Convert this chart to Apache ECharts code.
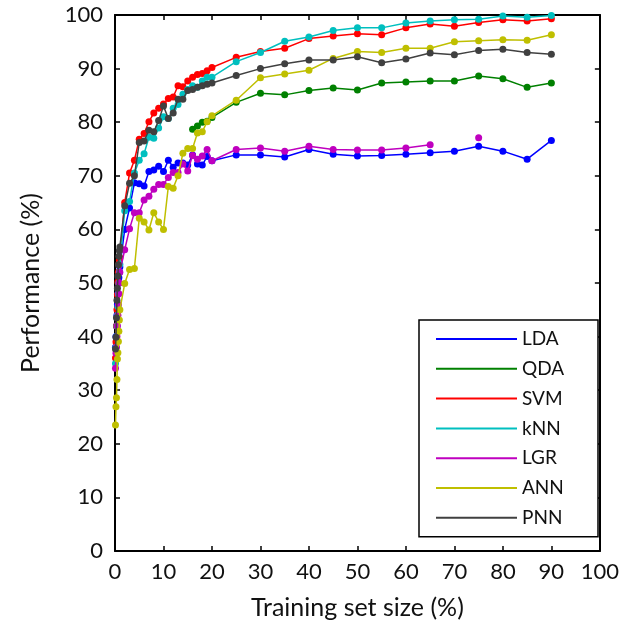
<!DOCTYPE html>
<html>
<head>
<meta charset="utf-8">
<script src="https://cdn.jsdelivr.net/npm/echarts@6/dist/echarts.min.js"></script>
<style>html,body{margin:0;padding:0;background:#fff}#c{width:622px;height:633px}</style>
</head>
<body>
<div id="c"></div>
<script>
// Training set sizes (%)
var xValues = [0.1,0.2,0.3,0.4,0.5,0.6,0.7,0.8,0.9,1,
  2,3,4,5,6,7,8,9,10,11,12,13,14,15,16,17,18,19,20,
  25,30,35,40,45,50,55,60,65,70,75,80,85,90];

var seriesNames = ['LDA','QDA','SVM','kNN','LGR','ANN','PNN'];

var LDA = [38,40,42,44,46,48,50,51,52,53,
  60,64,68.7,68.5,68.1,70.8,71.1,71.8,70.8,72.9,71.6,72.4,72.4,72.0,73.9,72.2,72.0,73.6,72.8,
  73.9,73.9,73.5,74.9,74.0,73.7,73.8,74.0,74.3,74.6,75.5,74.6,73.1,76.6];
var QDA = [null,null,null,null,null,null,null,null,null,null,
  null,null,null,null,null,null,null,null,null,null,null,null,null,null,78.7,79.3,80.0,80.2,80.9,
  83.7,85.4,85.1,85.9,86.4,86.0,87.3,87.5,87.7,87.7,88.6,88.1,86.5,87.3];
var SVM = [36,39,42,45,47.8,50.2,52,53.5,54.3,54.7,
  65.0,70.5,72.9,76.8,77.9,80.1,81.7,82.6,83.4,84.4,84.7,86.8,86.6,87.7,88.4,88.9,89.1,89.6,90.2,
  92.1,93.2,93.8,95.6,96.1,96.5,96.3,97.6,98.3,97.9,98.6,99.1,98.9,99.3];
var kNN = [35,38,40,42,44,45.6,48,50,52,53.5,
  63.5,65.2,70.5,72.9,74.1,77.2,77.0,78.9,81.0,80.7,82.6,83.3,85.2,86.1,86.8,86.5,87.7,88.4,88.4,
  91.3,93.0,95.1,95.9,97.1,97.6,97.6,98.5,98.9,99.1,99.2,99.8,99.6,99.9];
var LGR = [34.1,36.9,38,40,42,44,46,48,50,52,
  56.2,60.1,63.1,63.1,65.5,66.2,67.5,68.4,68.4,69.7,70.6,70.6,72.2,70.9,73.8,73.1,73.7,74.9,72.8,
  74.9,75.2,74.6,75.5,74.9,74.8,74.8,75.2,75.8,null,77.1,null,null,null];
var ANN = [23.5,26.9,28.6,32.0,35.8,37,39.1,41,43.1,45,
  49.9,52.5,52.7,62.1,61.4,59.9,63.1,61.4,60.0,68.0,67.7,70.0,74.2,75.1,75.1,78.0,78.2,80.1,81.2,
  84.1,88.3,89.0,89.7,91.9,93.2,93.0,93.8,93.8,95.0,95.2,95.4,95.3,96.3];
var PNN = [37.7,39.9,43.5,46.8,49,51.3,53.4,55,56,56.7,
  64.4,68.6,70.0,76.2,76.5,78.5,78.2,80.3,83.0,80.7,81.7,84.3,84.3,85.9,86.1,86.5,86.8,87.1,87.3,
  88.7,90.0,90.9,91.6,91.6,92.2,91.1,91.8,92.9,92.6,93.4,93.6,93.0,92.7];

var xTicks = [0,10,20,30,40,50,60,70,80,90,100];
var yTicks = [0,10,20,30,40,50,60,70,80,90,100];

var colors = ['#0000ff','#008000','#ff0000','#00bfbf','#bf00bf','#bfbf00','#404040'];
var values = [LDA,QDA,SVM,kNN,LGR,ANN,PNN];

var FONT = 'Lato';
var chart = echarts.init(document.getElementById('c'), null, {renderer:'canvas'});

function pairs(ys){ return xValues.map(function(x,i){ return [x, ys[i]]; }); }

var series = seriesNames.map(function(n,i){
  return {
    name: n, type: 'line', data: pairs(values[i]),
    symbol: 'circle', symbolSize: 7, connectNulls: false,
    lineStyle: {width: 1.5, color: colors[i]},
    itemStyle: {color: colors[i]},
    emphasis: {disabled: true}, animation: false, z: 2 + i
  };
});

var axisCommon = {
  type: 'value', min: 0, max: 100, interval: 10,
  splitLine: {show: false},
  axisLine: {show: true, onZero: false, lineStyle: {color: '#000', width: 2}},
  axisTick: {show: true, inside: true, length: 5, lineStyle: {color: '#000', width: 1.5}}
};

chart.setOption({
  animation: false,
  backgroundColor: '#fff',
  grid: {left: 115, top: 15, right: 14, bottom: 82, containLabel: false},
  xAxis: [
    Object.assign({}, axisCommon, {
      position: 'bottom',
      name: 'Training set size (%)', nameLocation: 'middle', nameGap: 44,
      nameTextStyle: {fontFamily: FONT, fontSize: 25, color: '#111'},
      axisLabel: {show: true, margin: 10, fontFamily: FONT, fontSize: 22, color: '#111',
        formatter: function(v){ return xTicks.indexOf(v) >= 0 ? String(v) : ''; }}
    }),
    Object.assign({}, axisCommon, {position: 'top', axisLabel: {show: false}})
  ],
  yAxis: [
    Object.assign({}, axisCommon, {
      position: 'left',
      name: 'Performance (%)', nameLocation: 'middle', nameGap: 72,
      nameTextStyle: {fontFamily: FONT, fontSize: 25, color: '#111'},
      axisLabel: {show: true, margin: 12, fontFamily: FONT, fontSize: 22, color: '#111',
        formatter: function(v){ return yTicks.indexOf(v) >= 0 ? String(v) : ''; }}
    }),
    Object.assign({}, axisCommon, {position: 'right', axisLabel: {show: false}})
  ],
  legend: {
    orient: 'vertical', left: 419, top: 320,
    data: seriesNames,
    icon: 'rect', itemWidth: 81, itemHeight: 2, itemGap: 9.8,
    padding: [9, 16, 9, 17],
    borderColor: '#000', borderWidth: 1.5, backgroundColor: '#fff',
    selectedMode: false,
    textStyle: {fontFamily: FONT, fontSize: 19, color: '#111', lineHeight: 20, width: 60, padding: [0,0,0,0]},
    itemStyle: {borderWidth: 0}
  },
  series: series
});
</script>
</body>
</html>
